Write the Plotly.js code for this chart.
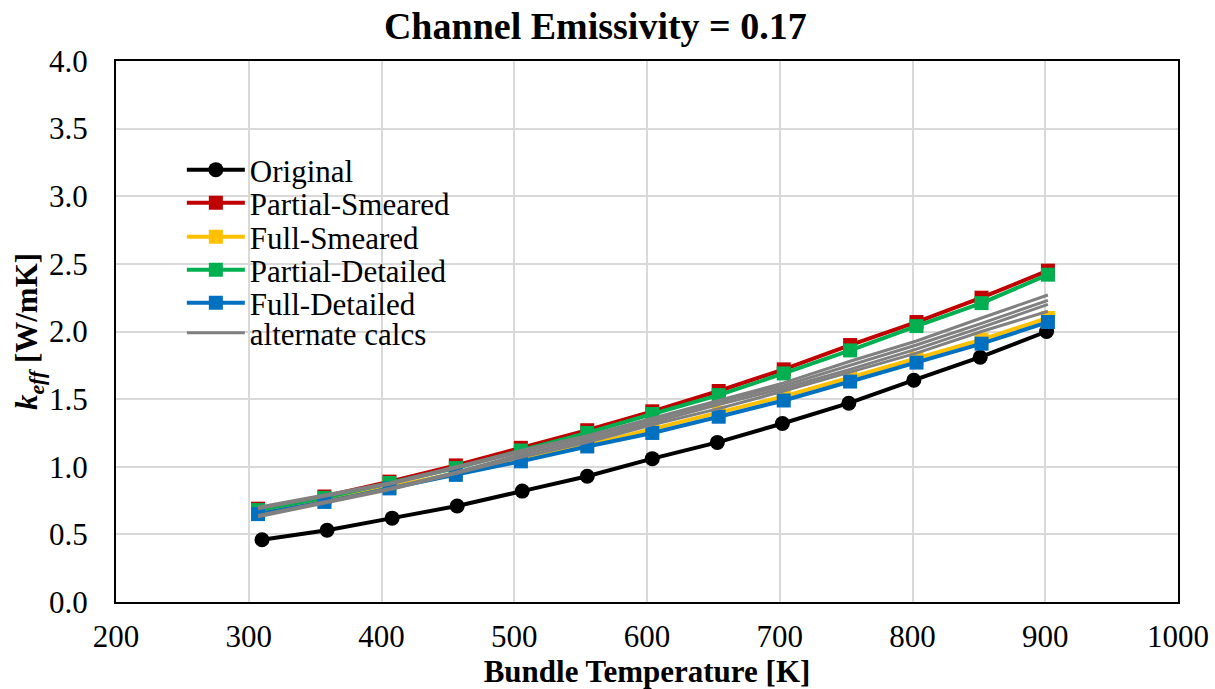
<!DOCTYPE html>
<html>
<head>
<meta charset="utf-8">
<script src="https://cdn.plot.ly/plotly-3.0.1.min.js"></script>
<style>html,body{margin:0;padding:0;background:#fff;}#chart{width:1215px;height:689px;}</style>
</head>
<body>
<div id="chart"></div>
<script>
// Data
var tempOriginal = [310, 359, 408, 457, 506, 555, 604, 653, 702, 752, 801, 851, 901];
var kOriginal = [0.46, 0.53, 0.62, 0.71, 0.82, 0.93, 1.06, 1.18, 1.32, 1.47, 1.64, 1.81, 2.00];

var tempModels = [307, 357, 406, 456, 505, 555, 604, 654, 703, 753, 803, 852, 902];
var kPartialSmeared = [0.69, 0.78, 0.89, 1.01, 1.14, 1.27, 1.41, 1.56, 1.72, 1.90, 2.07, 2.25, 2.45];
var kFullSmeared = [0.66, 0.75, 0.85, 0.95, 1.05, 1.16, 1.28, 1.40, 1.52, 1.66, 1.80, 1.94, 2.10];
var kPartialDetailed = [0.68, 0.77, 0.88, 0.99, 1.12, 1.25, 1.39, 1.53, 1.69, 1.86, 2.04, 2.21, 2.42];
var kFullDetailed = [0.65, 0.74, 0.84, 0.94, 1.04, 1.15, 1.25, 1.37, 1.49, 1.63, 1.77, 1.91, 2.07];

var kAlt1 = [0.70, 0.79, 0.88, 1.00, 1.12, 1.23, 1.36, 1.49, 1.62, 1.78, 1.93, 2.10, 2.27];
var kAlt2 = [0.69, 0.78, 0.87, 0.99, 1.11, 1.22, 1.35, 1.48, 1.60, 1.75, 1.90, 2.06, 2.23];
var kAlt3 = [0.64, 0.74, 0.84, 0.96, 1.09, 1.20, 1.33, 1.46, 1.58, 1.72, 1.87, 2.03, 2.20];
var kAlt4 = [0.63, 0.73, 0.83, 0.95, 1.07, 1.18, 1.31, 1.43, 1.56, 1.70, 1.84, 2.00, 2.15];

var xTicks = [200, 300, 400, 500, 600, 700, 800, 900, 1000];
var yTicks = [0, 0.5, 1.0, 1.5, 2.0, 2.5, 3.0, 3.5, 4.0];

var FONT = 'Liberation Serif, Times New Roman, serif';

function markerSeries(name, x, y, color, symbol, leg) {
  return {
    x: x, y: y, name: name, type: 'scatter', mode: 'lines+markers',
    line: {color: color, width: 4}, legend: leg,
    marker: {color: color, symbol: symbol, size: symbol === 'circle' ? 15 : 14}
  };
}
function altSeries(y, show) {
  return {
    x: tempModels, y: y, name: 'alternate calcs', type: 'scatter', mode: 'lines',
    line: {color: '#808080', width: 3}, showlegend: show, legendgroup: 'alt', legend: 'legend6'
  };
}

var traces = [
  markerSeries('Original', tempOriginal, kOriginal, '#000000', 'circle', 'legend'),
  markerSeries('Partial-Smeared', tempModels, kPartialSmeared, '#C00000', 'square', 'legend2'),
  markerSeries('Full-Smeared', tempModels, kFullSmeared, '#FFC000', 'square', 'legend3'),
  markerSeries('Partial-Detailed', tempModels, kPartialDetailed, '#00B050', 'square', 'legend4'),
  markerSeries('Full-Detailed', tempModels, kFullDetailed, '#0070C0', 'square', 'legend5'),
  altSeries(kAlt1, true),
  altSeries(kAlt2, false),
  altSeries(kAlt3, false),
  altSeries(kAlt4, false)
];

var plotTop = 61, plotBottom = 602;
var legendCentersPx = [170, 203, 237, 270, 303, 333];
function legendAt(px) {
  return {x: 0.062, y: (plotBottom - px) / (plotBottom - plotTop), xanchor: 'left', yanchor: 'middle',
          bgcolor: 'rgba(255,255,255,0)', font: {size: 31, family: FONT, color: '#000'},
          itemwidth: 58, borderwidth: 0};
}

var layout = {
  width: 1215, height: 689,
  margin: {l: 116, r: 37, t: 61, b: 87},
  paper_bgcolor: '#fff', plot_bgcolor: '#fff',
  font: {family: FONT, color: '#000', size: 31},
  title: {text: '<b>Channel Emissivity = 0.17</b>', font: {family: FONT, size: 38, color: '#000'},
          x: 0.49, xanchor: 'center', y: 0.963, yanchor: 'middle'},
  xaxis: {
    range: [200, 1000], tickvals: xTicks, ticktext: xTicks.map(String),
    showgrid: true, gridcolor: '#d9d9d9', gridwidth: 2,
    showline: true, linecolor: '#000', linewidth: 2, mirror: true,
    ticks: '', zeroline: false, tickfont: {size: 31, family: FONT}, ticklabelstandoff: 6,
    title: {text: '<b>Bundle Temperature [K]</b>', font: {size: 31, family: FONT}, standoff: 0}
  },
  yaxis: {
    range: [0, 4.0], tickvals: yTicks, ticktext: yTicks.map(function(v){return v.toFixed(1);}),
    showgrid: true, gridcolor: '#d9d9d9', gridwidth: 2,
    showline: true, linecolor: '#000', linewidth: 2, mirror: true,
    ticks: '', zeroline: false, tickfont: {size: 31, family: FONT}, ticklabelstandoff: 20,
    title: {text: '<b><i>k</i><sub><i>eff</i></sub> [W/mK]</b>', font: {size: 31, family: FONT}, standoff: 2}
  },
  legend: legendAt(legendCentersPx[0]),
  legend2: legendAt(legendCentersPx[1]),
  legend3: legendAt(legendCentersPx[2]),
  legend4: legendAt(legendCentersPx[3]),
  legend5: legendAt(legendCentersPx[4]),
  legend6: legendAt(legendCentersPx[5]),
  showlegend: true
};

Plotly.newPlot('chart', traces, layout, {displayModeBar: false, staticPlot: true});
</script>
</body>
</html>
